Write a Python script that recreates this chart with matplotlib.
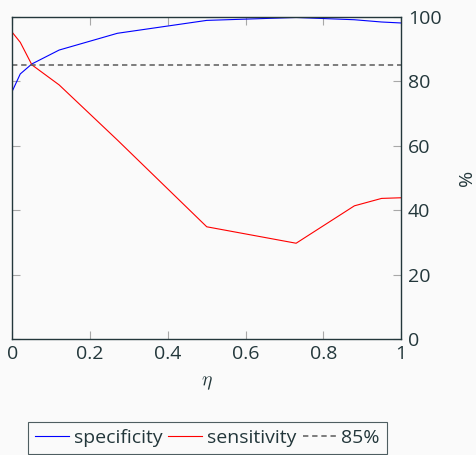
import numpy as np
import matplotlib.pyplot as plt

eta = [0.0, 0.02, 0.05, 0.12, 0.27, 0.5, 0.73, 0.88, 0.95, 1.0]
specificity = [77.0, 82.2, 85.3, 89.6, 94.8, 98.8, 99.7, 99.0, 98.3, 98.0]
sensitivity = [95.0, 92.0, 85.0, 78.8, 61.7, 34.8, 29.7, 41.3, 43.6, 43.8]
threshold = 85

dark = '#23373b'
tickgray = '#a8a8a8'

plt.rcParams['font.family'] = ['Open Sans', 'DejaVu Sans']
plt.rcParams['mathtext.fontset'] = 'cm'

fig = plt.figure(figsize=(4.77, 4.55), dpi=100, facecolor='#fafafa')
ax = fig.add_axes([0.0262, 0.2549, 0.8145, 0.7088], facecolor='#fafafa')

l1, = ax.plot(eta, specificity, color='blue', lw=0.8, label='specificity')
l2, = ax.plot(eta, sensitivity, color='red', lw=0.8, label='sensitivity')
l3 = ax.axhline(threshold, color='#5a5a5a', lw=1.1, ls=(0, (3.5, 2.5)), label='85%')

ax.set_xlim(0, 1)
ax.set_ylim(0, 100)
ax.set_xticks([0, 0.2, 0.4, 0.6, 0.8, 1])
ax.set_xticklabels(['0', '0.2', '0.4', '0.6', '0.8', '1'])
ax.set_yticks([0, 20, 40, 60, 80, 100])
ax.yaxis.tick_right()
ax.yaxis.set_label_position('right')
ax.tick_params(axis='both', direction='in', length=6, width=0.8, color=tickgray,
               labelsize=14, labelcolor=dark, top=True, bottom=True, left=True, right=True,
               labelleft=False, labelright=True)
ax.tick_params(axis='x', pad=4)
ax.tick_params(axis='y', pad=5)
for s in ax.spines.values():
    s.set_color(dark)
    s.set_linewidth(1.0)

ax.set_xlabel(r'$\eta$', fontsize=14, color=dark, labelpad=8)
ax.set_ylabel('%', fontsize=14, color=dark, labelpad=12)

leg = fig.legend(handles=[l1, l2, l3], loc='upper center', bbox_to_anchor=(0.435, 0.078 + 0.016),
                 ncol=3, fontsize=14, frameon=True, fancybox=False, handlelength=1.75,
                 handletextpad=0.25, columnspacing=0.3, borderpad=0.35, labelcolor=dark)
leg.get_frame().set_edgecolor(dark)
leg.get_frame().set_linewidth(0.8)
leg.get_frame().set_facecolor('#fafafa')

fig.savefig('out.png', dpi=100, facecolor=fig.get_facecolor())
